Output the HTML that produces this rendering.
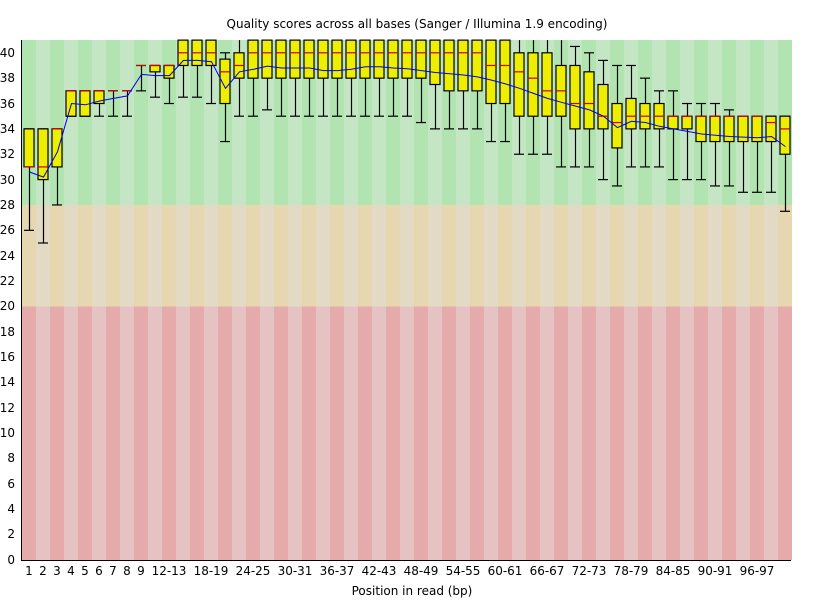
<!DOCTYPE html>
<html><head><meta charset="utf-8"><style>
body{margin:0;background:#fff}
svg{display:block;font-family:"DejaVu Sans","Liberation Sans",sans-serif}
</style></head><body>
<svg id="s" width="825" height="600" xmlns="http://www.w3.org/2000/svg">
<g id="bg"></g>
<g id="boxes"></g>
<polyline id="mean" fill="none" stroke="#0000ee" stroke-width="1"/>
<line x1="21.5" y1="40" x2="21.5" y2="560.5" stroke="#000"/>
<line x1="21" y1="560.5" x2="791" y2="560.5" stroke="#000"/>
<text x="417" y="28" font-size="12" text-anchor="middle">Quality scores across all bases (Sanger / Illumina 1.9 encoding)</text>
<text x="412" y="595" font-size="12" text-anchor="middle">Position in read (bp)</text>
<g font-size="12" text-anchor="end">
<text x="15" y="57">40</text><text x="15" y="82">38</text><text x="15" y="108">36</text><text x="15" y="133">34</text><text x="15" y="158">32</text><text x="15" y="184">30</text><text x="15" y="209">28</text><text x="15" y="234">26</text><text x="15" y="260">24</text><text x="15" y="285">22</text><text x="15" y="310">20</text><text x="15" y="336">18</text><text x="15" y="361">16</text><text x="15" y="386">14</text><text x="15" y="412">12</text><text x="15" y="437">10</text><text x="15" y="462">8</text><text x="15" y="488">6</text><text x="15" y="513">4</text><text x="15" y="538">2</text><text x="15" y="564">0</text>
</g>
<g font-size="12" text-anchor="middle">
<text x="29" y="575">1</text><text x="43" y="575">2</text><text x="57" y="575">3</text><text x="71" y="575">4</text><text x="85" y="575">5</text><text x="99" y="575">6</text><text x="113" y="575">7</text><text x="127" y="575">8</text><text x="141" y="575">9</text>
<text x="169" y="575">12-13</text><text x="211" y="575">18-19</text><text x="253" y="575">24-25</text><text x="295" y="575">30-31</text><text x="337" y="575">36-37</text><text x="379" y="575">42-43</text><text x="421" y="575">48-49</text><text x="463" y="575">54-55</text><text x="505" y="575">60-61</text><text x="547" y="575">66-67</text><text x="589" y="575">72-73</text><text x="631" y="575">78-79</text><text x="673" y="575">84-85</text><text x="715" y="575">90-91</text><text x="757" y="575">96-97</text>
</g>
</svg>
<script>
const Y=v=>560-12.68*v;
// [wl,q25,med,q75,wh,mean]
const d=[
[26,31,31,34,34,30.6],[25,30,31,34,34,30.2],[28,31,34,34,34,32.2],[35,35,37,37,37,36],[35,35,37,37,37,35.9],[35,36,37,37,37,36.2],[35,37,37,37,37,36.4],[35,37,37,37,37,36.6],[37,39,39,39,39,38.3],
[36.5,38.5,39,39,39,38.2],[36,38,39,39,39,38.2],[36.5,39,40,41,41,39.4],[36.5,39,40,41,41,39.4],[36,39,40,41,41,39.3],[33,36,38.5,39.5,40,37.2],[35,38,39,40,41,38.5],
[35,38,40,41,41,38.7],[35.5,38,40,41,41,38.95],[35,38,40,41,41,38.8],[35,38,40,41,41,38.8],[35,38,40,41,41,38.8],[35,38,40,41,41,38.6],[35,38,40,41,41,38.6],[35,38,40,41,41,38.7],[35,38,40,41,41,38.9],[35,38,40,41,41,38.9],[35,38,40,41,41,38.8],[35,38,40,41,41,38.75],[34.5,38,40,41,41,38.6],
[34,37.5,40,41,41,38.45],[34,37,40,41,41,38.35],[34,37,40,41,41,38.25],[34,37,40,41,41,38.1],[33,36,39,41,41,37.85],[33,36,39,41,41,37.55],[32,35,38.5,40,41,37.2],
[32,35,38,40,41,36.8],[32,35,37,40,41,36.4],[31,35,37,39,41,36.1],[31,34,36,39,40.5,35.8],[31,34,36,38.5,40,35.5],[30,34,35,37.5,39.4,35],[29.5,32.5,34.5,36,39,34.1],[31,34,35,36.4,39,34.6],[31,34,35,36,38,34.5],[31,34,35,36,37,34.2],
[30,34,35,35,37,34],[30,34,35,35,36,33.8],[30,33,35,35,36,33.6],[29.5,33,35,35,36,33.5],[29.5,33,35,35,35.5,33.4],[29,33,35,35,35,33.35],[29,33,35,35,35,33.3],[29,33,34.5,35,35,33.4],[27.5,32,34,35,35,32.6]];
const ns="http://www.w3.org/2000/svg";
function el(p,t,a){const e=document.createElementNS(ns,t);for(const k in a)e.setAttribute(k,a[k]);p.appendChild(e);return e;}
const bg=document.getElementById('bg'),bx=document.getElementById('boxes');
const cols=[['#b1e4b1','#c5e6c5'],['#e6d7b0','#e3dac6'],['#e5aaaa','#e5c3c3']];
const y28=Y(28),y20=Y(20);
let pts=[];
for(let k=0;k<55;k++){
 const x=22+14*k,i=k%2;
 el(bg,'rect',{x:x,y:40,width:14,height:y28-40,fill:cols[0][i]});
 el(bg,'rect',{x:x,y:y28,width:14,height:y20-y28,fill:cols[1][i]});
 el(bg,'rect',{x:x,y:y20,width:14,height:560-y20,fill:cols[2][i]});
 const [wl,q1,m,q3,wh,mn]=d[k];
 const cx=x+7.5,l=x+2,r=x+12;
 const yh=Math.max(40,Y(wh)),yl=Y(wl);
 const a={stroke:'#000','stroke-width':1.2};
 el(bx,'line',Object.assign({x1:cx,y1:yh,x2:cx,y2:yl},a));
 if(wh<41.05 && Y(wh)>40.5) el(bx,'line',Object.assign({x1:l,y1:Y(wh),x2:r,y2:Y(wh)},a));
 el(bx,'line',Object.assign({x1:l,y1:yl,x2:r,y2:yl},a));
 const yt=Math.max(40,Y(q3)),yb=Y(q1);
 if(yb-yt>0.5) el(bx,'rect',{x:l,y:yt,width:r-l,height:yb-yt,fill:'#eeee00',stroke:'#000','stroke-width':1.2});
 el(bx,'line',{x1:l,y1:Y(m),x2:r,y2:Y(m),stroke:'#cc0000','stroke-width':1.2});
 pts.push(cx+','+Y(mn).toFixed(1));
}
document.getElementById('mean').setAttribute('points',pts.join(' '));
</script>
</body></html>
